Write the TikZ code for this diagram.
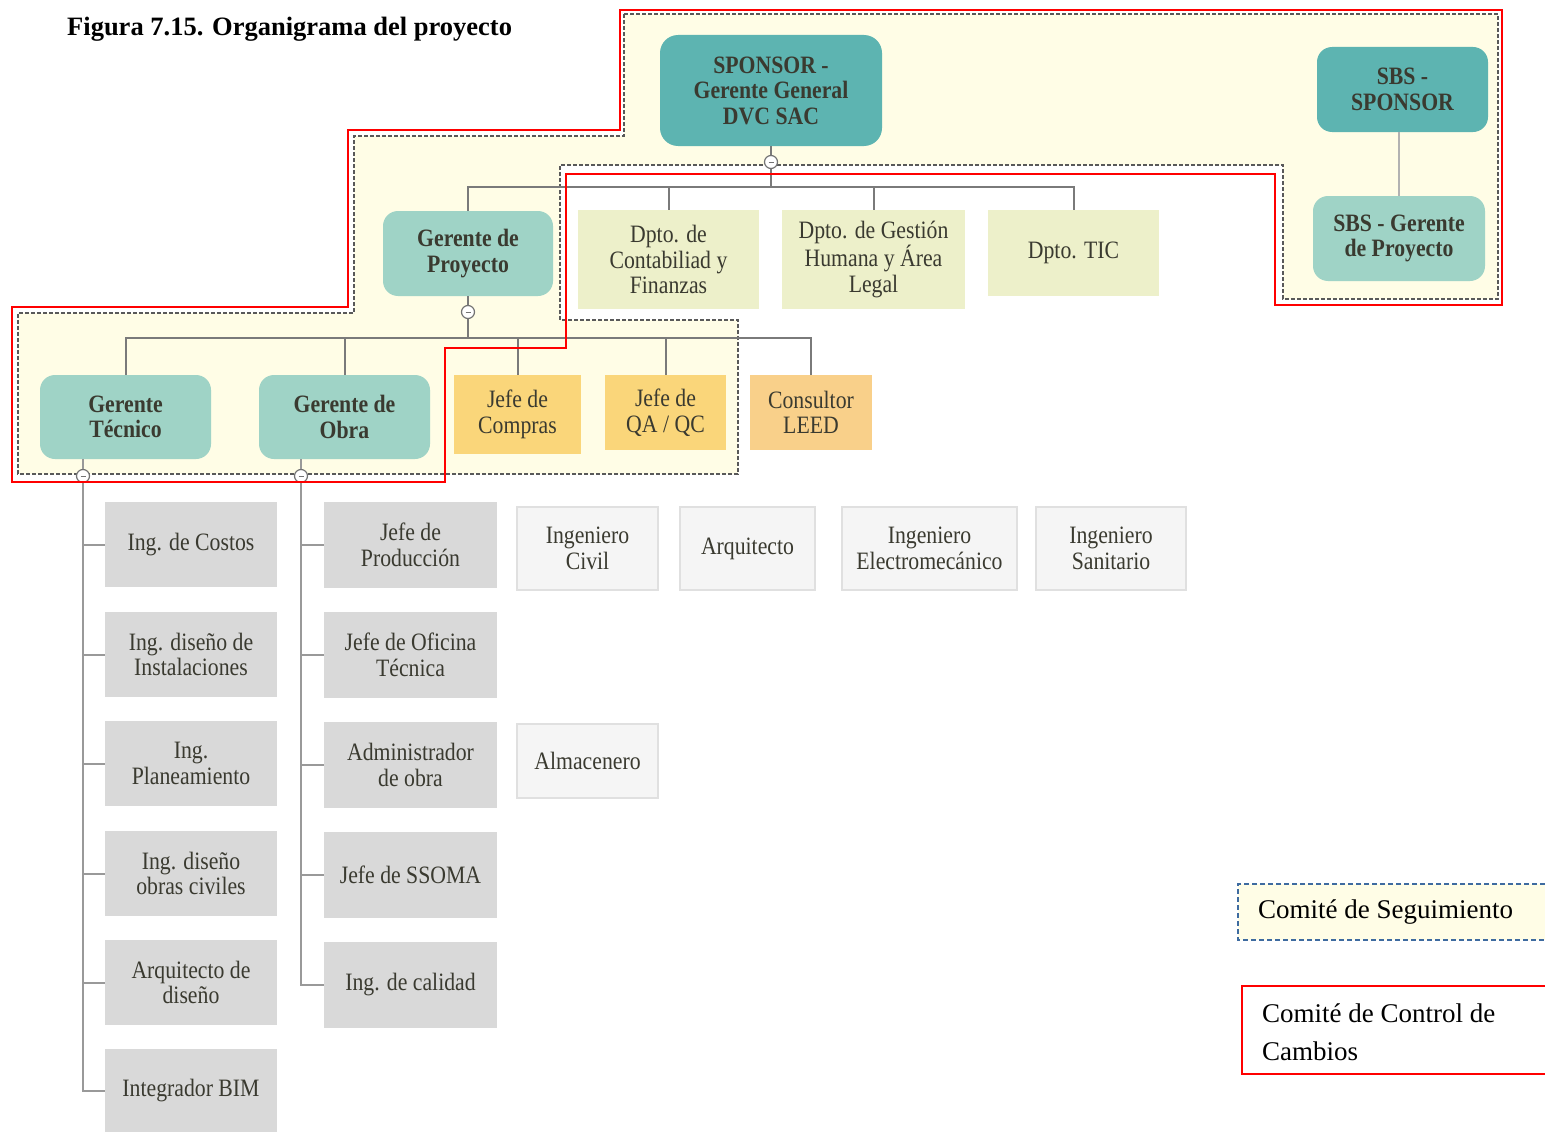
\documentclass[tikz,border=0pt]{standalone}
\usepackage{fontspec}
\setmainfont{Liberation Serif}
\newfontfamily\narrow[FakeStretch=0.87]{Liberation Serif}
\definecolor{tealdk}{HTML}{5DB4B1}
\definecolor{teallt}{HTML}{9FD3C6}
\definecolor{dpto}{HTML}{EDF0CA}
\definecolor{jefe}{HTML}{FAD67A}
\definecolor{leed}{HTML}{F9D08A}
\definecolor{staff}{HTML}{D9D9D9}
\definecolor{pale}{HTML}{F5F5F5}
\definecolor{zone}{HTML}{FFFDE6}
\definecolor{ink}{HTML}{3A3A30}
\definecolor{legblue}{HTML}{3E6BA0}
\begin{document}
\begin{tikzpicture}[x=1pt,y=-1pt,
  lbl/.style={inner sep=0pt,align=center,text=ink,font=\narrow\fontsize{25}{25.5}\selectfont},
  head/.style={lbl,rounded corners=15pt,font=\narrow\bfseries\fontsize{25}{25.5}\selectfont},
  staffbox/.style={lbl,fill=staff,minimum width=172pt,minimum height=85pt},
  palebox/.style={lbl,fill=pale,draw=black!12,line width=1.5pt},
  link/.style={draw=black!52,line width=2pt},
  spine/.style={draw=black!40,line width=2pt},
  knob/.style={circle,draw=black!55,fill=white,line width=1.2pt,inner sep=0pt,minimum size=13pt,
    path picture={\draw[black!55,line width=1pt] ([xshift=-2.5pt]path picture bounding box.center)
      -- ([xshift=2.5pt]path picture bounding box.center);}}]
\useasboundingbox (0,0) rectangle (1545,1132);
% comite de seguimiento (zona)
\fill[zone] (624,14) -- (1498,14) -- (1498,299) -- (1283,299) -- (1283,165) -- (560,165)
  -- (560,320) -- (738,320) -- (738,474) -- (18,474) -- (18,313) -- (354,313) -- (354,136)
  -- (624,136) -- cycle;
\draw[black!65,line width=2.2pt,dash pattern=on 4pt off 2pt] (624,14) -- (1498,14) -- (1498,299)
  -- (1283,299) -- (1283,165) -- (560,165) -- (560,320) -- (738,320) -- (738,474) -- (18,474)
  -- (18,313) -- (354,313) -- (354,136) -- (624,136) -- cycle;
\node[anchor=base west,inner sep=0pt,font=\bfseries\fontsize{26.5}{26.5}\selectfont] (title) at (67,36)
  {Figura 7.15. Organigrama del proyecto};
% nivel 1
\node[head,fill=tealdk,minimum width=222pt,minimum height=111pt,rounded corners=18pt] (spon)
  at (771,90.5) {SPONSOR -\\Gerente General\\DVC SAC};
\node[head,fill=tealdk,minimum width=171pt,minimum height=85pt] (sbs) at (1402.5,89.5) {SBS -\\SPONSOR};
\node[head,fill=teallt,minimum width=172pt,minimum height=85pt] (sbsgp) at (1399,238.5) {SBS - Gerente\\de Proyecto};
% nivel 2
\node[head,fill=teallt,minimum width=170pt,minimum height=85pt] (gp) at (468,253.5) {Gerente de\\Proyecto};
\node[lbl,fill=dpto,minimum width=181pt,minimum height=99pt] (cont) at (668.5,259.5) {Dpto. de\\Contabiliad y\\Finanzas};
\node[lbl,fill=dpto,minimum width=183pt,minimum height=99pt] (gest) at (873.5,259.5) {Dpto. de Gestión\\Humana y Área\\Legal};
\node[lbl,fill=dpto,minimum width=171pt,minimum height=86pt] (tic) at (1073.5,253) {Dpto. TIC};
% nivel 3
\node[head,fill=teallt,minimum width=171pt,minimum height=84pt] (gt) at (125.5,417) {Gerente\\Técnico};
\node[head,fill=teallt,minimum width=171pt,minimum height=84pt] (go) at (344.5,417) {Gerente de\\Obra};
\node[lbl,fill=jefe,minimum width=127pt,minimum height=79pt] (comp) at (517.5,414.5) {Jefe de\\Compras};
\node[lbl,fill=jefe,minimum width=121pt,minimum height=75pt] (qa) at (665.5,412.5) {Jefe de\\QA / QC};
\node[lbl,fill=leed,minimum width=122pt,minimum height=75pt] (leed) at (811,412.5) {Consultor\\LEED};
% staff
\foreach \n/\y/\t in {t1/544.5/{Ing. de Costos}, t2/654.5/{Ing. diseño de\\Instalaciones},
  t3/763.5/{Ing.\\Planeamiento}, t4/873.5/{Ing. diseño\\obras civiles},
  t5/982.5/{Arquitecto de\\diseño}, t6/1091/{Integrador BIM}}
  \node[staffbox] (\n) at (191,\y) {\t};
\foreach \n/\y/\t in {o1/545/{Jefe de\\Producción}, o2/655/{Jefe de Oficina\\Técnica},
  o3/765/{Administrador\\de obra}, o4/875/{Jefe de SSOMA}, o5/985/{Ing. de calidad}}
  \node[staffbox,minimum width=173pt,minimum height=86pt] (\n) at (410.5,\y) {\t};
\foreach \n/\x/\w/\t in {civ/587.5/141/{Ingeniero\\Civil}, arq/747.5/135/{Arquitecto},
  ele/929.5/175/{Ingeniero\\Electromecánico}, san/1111/150/{Ingeniero\\Sanitario}}
  \node[palebox,minimum width=\w pt,minimum height=83pt] (\n) at (\x,548.5) {\t};
\node[palebox,minimum width=141pt,minimum height=74pt] (alm) at (587.5,761) {Almacenero};
% conectores
\coordinate (bus1) at (771,187);
\coordinate (bus2) at (468,338);
\draw[link] (spon.south) -- (bus1);
\foreach \n in {gp,cont,gest,tic} \draw[link] (bus1) -| (\n.north);
\draw[link] (gp.south) -- (bus2);
\foreach \n in {gt,go,comp,qa,leed} \draw[link] (bus2) -| (\n.north);
\draw[black!30,line width=1.2pt] (sbsgp.north) -- (sbsgp.north |- sbs.south);
\node[knob] (k1) at (771,162) {};
\node[knob] (k2) at (468,312) {};
\node[knob] (kt) at (83,476) {};
\node[knob] (ko) at (301,476) {};
\draw[spine] (gt.south -| kt) -- (kt);
\draw[spine] (go.south -| ko) -- (ko);
\foreach \n in {t1,t2,t3,t4,t5,t6} \draw[spine] (kt) |- (\n.west);
\foreach \n in {o1,o2,o3,o4,o5} \draw[spine] (ko) |- (\n.west);
% comite de control de cambios
\draw[red,line width=1.5pt] (620,10) -- (1502,10) -- (1502,305) -- (1275,305) -- (1275,174)
  -- (566,174) -- (566,348) -- (445,348) -- (445,482) -- (12,482) -- (12,307) -- (348,307)
  -- (348,130) -- (620,130) -- cycle;
% leyenda
\fill[zone] (1238,884) rectangle (1545,940);
\draw[legblue,line width=1.8pt,dash pattern=on 5pt off 3pt] (1545,884) -- (1238,884) -- (1238,940) -- (1545,940);
\node[anchor=west,inner sep=0pt,font=\fontsize{27}{27}\selectfont] (seg) at (1258,912) {Comité de Seguimiento};
\draw[red,line width=2pt] (1545,986) -- (1242,986) -- (1242,1074) -- (1545,1074);
\node[anchor=west,inner sep=0pt,align=left,font=\fontsize{27}{38}\selectfont] (ccc) at (1262,1032)
  {Comité de Control de\\Cambios};
\end{tikzpicture}
\end{document}
